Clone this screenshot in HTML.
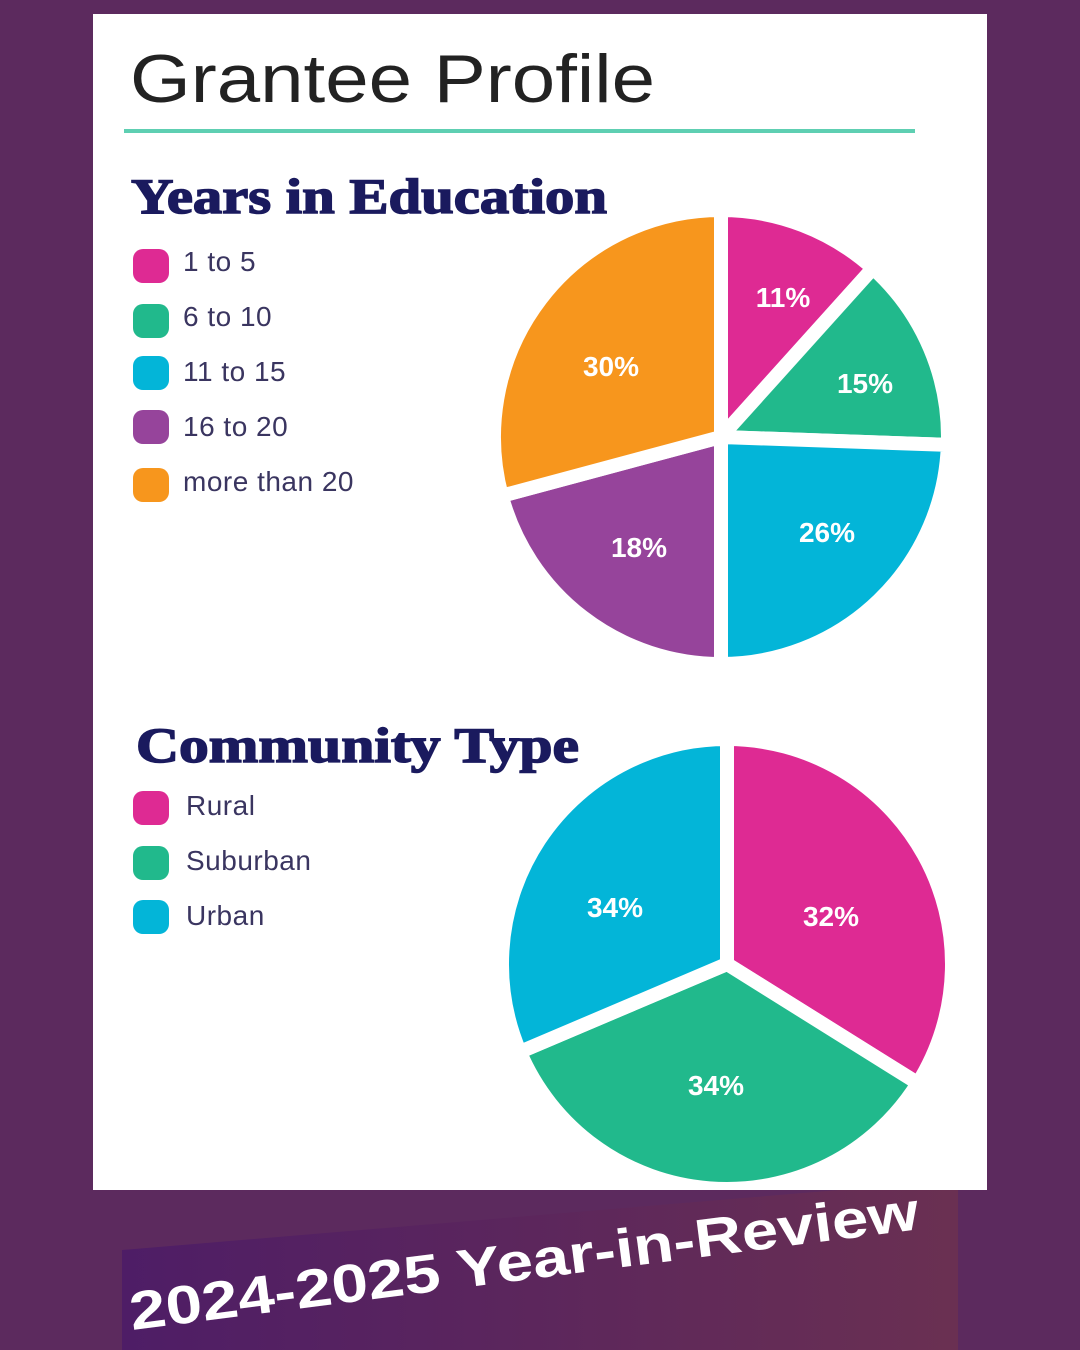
<!DOCTYPE html>
<html><head><style>
body{margin:0;width:1080px;height:1350px;background:#5c2a5e;position:relative;overflow:hidden;font-family:"Liberation Sans",sans-serif}
.card{position:absolute;left:93px;top:14px;width:894px;height:1176px;background:#fff}
.leg{position:absolute;font-size:28px;color:#3a3560;white-space:nowrap;letter-spacing:0.5px}
.sw{position:absolute;width:36px;height:34px;border-radius:10px}
</style></head><body>
<svg style="position:absolute;left:0;top:0" width="1080" height="1350">
<defs><linearGradient id="g" x1="0" x2="1"><stop offset="0" stop-color="#4e1d66"/><stop offset="1" stop-color="#6a3052"/></linearGradient></defs>
<polygon points="122,1250 958,1180 958,1350 122,1350" fill="url(#g)"/>
</svg>
<div class="card"></div>
<div style="position:absolute;left:124px;top:129px;width:791px;height:4px;background:#5ecfb2"></div>

<div class="sw" style="left:133px;top:249px;background:#de2a93"></div><div class="leg" style="left:183px;top:246px">1 to 5</div>
<div class="sw" style="left:133px;top:304px;background:#21b98c"></div><div class="leg" style="left:183px;top:301px">6 to 10</div>
<div class="sw" style="left:133px;top:356px;background:#03b5d8"></div><div class="leg" style="left:183px;top:356px">11 to 15</div>
<div class="sw" style="left:133px;top:410px;background:#96449b"></div><div class="leg" style="left:183px;top:411px">16 to 20</div>
<div class="sw" style="left:133px;top:468px;background:#f7961d"></div><div class="leg" style="left:183px;top:466px">more than 20</div>

<div class="sw" style="left:133px;top:791px;background:#de2a93"></div><div class="leg" style="left:186px;top:790px">Rural</div>
<div class="sw" style="left:133px;top:846px;background:#21b98c"></div><div class="leg" style="left:186px;top:845px">Suburban</div>
<div class="sw" style="left:133px;top:900px;background:#03b5d8"></div><div class="leg" style="left:186px;top:900px">Urban</div>

<svg style="position:absolute;left:0;top:0" width="1080" height="1350">
<defs><clipPath id="c"><rect x="93" y="14" width="894" height="1176"/></clipPath></defs>
<text x="130" y="102" font-family="Liberation Sans, sans-serif" font-size="68" fill="#222" textLength="525" lengthAdjust="spacingAndGlyphs">Grantee Profile</text>
<text x="131" y="213" font-family="Liberation Serif, serif" font-weight="900" font-size="50" fill="#1a1a5e" stroke="#1a1a5e" stroke-width="1.5" textLength="476" lengthAdjust="spacingAndGlyphs">Years in Education</text>
<text x="136" y="762" font-family="Liberation Serif, serif" font-weight="900" font-size="50" fill="#1a1a5e" stroke="#1a1a5e" stroke-width="1.5" textLength="443" lengthAdjust="spacingAndGlyphs">Community Type</text>
<g clip-path="url(#c)">
<g stroke="#fff" stroke-width="14" stroke-linejoin="round" id="p1"></g>
<g stroke="#fff" stroke-width="14" stroke-linejoin="round" id="p2"></g>
</g>
<g fill="#fff" font-family="Liberation Sans, sans-serif" font-weight="bold" font-size="28" text-anchor="middle">
<text x="783" y="307">11%</text><text x="865" y="393">15%</text><text x="827" y="542">26%</text>
<text x="639" y="557">18%</text><text x="611" y="376">30%</text>
<text x="615" y="917">34%</text><text x="831" y="926">32%</text><text x="716" y="1095">34%</text>
</g>
<text x="0" y="0" transform="translate(132,1330) rotate(-7.3)" fill="#fff" font-family="Liberation Sans, sans-serif" font-weight="900" font-size="54" textLength="795" lengthAdjust="spacingAndGlyphs">2024-2025 Year-in-Review</text>
</svg>
<script>
function wedge(g,cx,cy,r,a0,a1,col){
 const p=a=>[cx+r*Math.sin(a*Math.PI/180),cy-r*Math.cos(a*Math.PI/180)];
 const [x0,y0]=p(a0),[x1,y1]=p(a1);
 const e=document.createElementNS('http://www.w3.org/2000/svg','path');
 e.setAttribute('d',`M${cx},${cy}L${x0},${y0}A${r},${r} 0 ${a1-a0>180?1:0} 1 ${x1},${y1}Z`);
 e.setAttribute('fill',col);g.appendChild(e);}
const g1=document.getElementById('p1'),g2=document.getElementById('p2');
[[0,42,'#de2a93'],[42,92,'#21b98c'],[92,180,'#03b5d8'],[180,255,'#96449b'],[255,360,'#f7961d']].forEach(s=>wedge(g1,721,437,227,s[0],s[1],s[2]));
[[0,122,'#de2a93'],[122,247,'#21b98c'],[247,360,'#03b5d8']].forEach(s=>wedge(g2,727,964,225,s[0],s[1],s[2]));
</script>
</body></html>
